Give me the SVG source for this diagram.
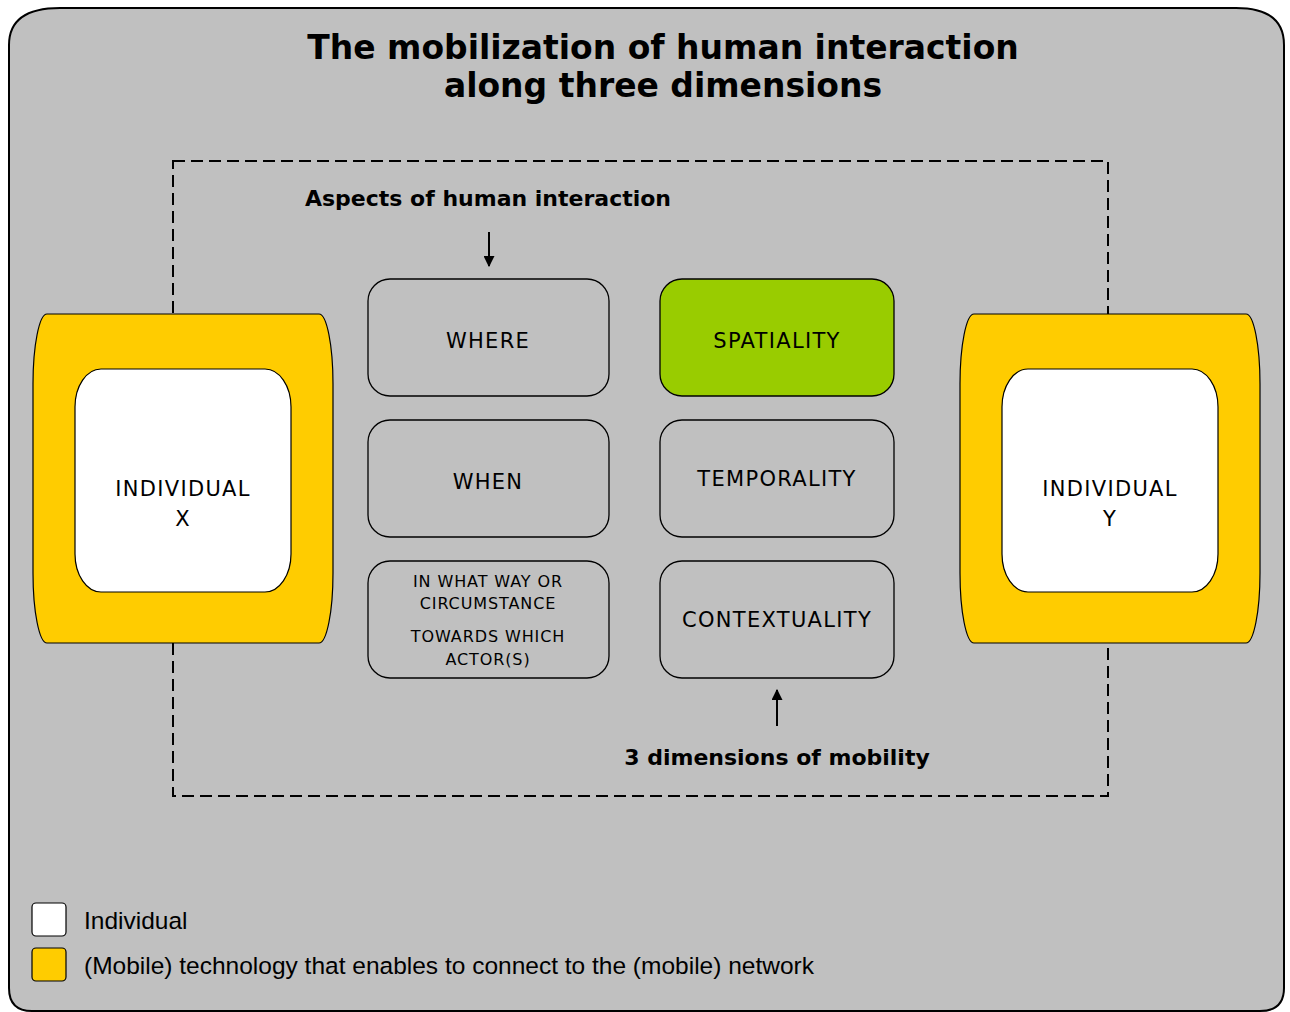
<svg xmlns="http://www.w3.org/2000/svg" width="1290" height="1012" viewBox="0 0 1290 1012">
<style>
.box{fill:#c0c0c0;stroke:#000;stroke-width:1.3}
.t{font-family:"DejaVu Sans","Liberation Sans",sans-serif;fill:#000;text-anchor:middle}
.lbl{font-size:21px;letter-spacing:1.3px}
.sm{font-size:16px;letter-spacing:0.9px}
.hd{font-family:"DejaVu Sans","Liberation Sans",sans-serif;font-weight:bold;text-anchor:middle;fill:#000}
.leg{font-family:"Liberation Sans",Arial,sans-serif;font-size:24.5px;fill:#000}
.yel{fill:#ffcc00;stroke:#000;stroke-width:1.2}
.wht{fill:#fff;stroke:#000;stroke-width:1.2}
</style>
<defs>
<marker id="ah" viewBox="0 0 10 10" refX="9" refY="5" markerWidth="11" markerHeight="11" markerUnits="userSpaceOnUse" orient="auto">
<path d="M0,0 L10,5 L0,10 z" fill="#000"/>
</marker>
</defs>
<g id="background">
<path d="M9,45 Q9,8 60,8 L1236,8 Q1284,8 1284,45 L1284,988 Q1284,1011 1260,1011 L32,1011 Q9,1011 9,988 Z" fill="#c0c0c0" stroke="#000" stroke-width="2"/>
</g>
<g id="title">
<text class="hd" font-size="34" transform="translate(663,59) scale(0.97,1)">The mobilization of human interaction</text>
<text class="hd" font-size="34" transform="translate(663,97) scale(0.97,1)">along three dimensions</text>
</g>
<g id="frame">
<rect x="173" y="161" width="935" height="635" fill="none" stroke="#000" stroke-width="2" stroke-dasharray="12,6"/>
</g>
<g id="individual-x">
<rect class="yel" x="33" y="314" width="300" height="329" rx="14" ry="70"/>
<rect class="wht" x="75" y="369" width="216" height="223" rx="26" ry="38"/>
<text class="t lbl" x="183" y="496">INDIVIDUAL</text>
<text class="t lbl" x="183" y="526">X</text>
</g>
<g id="individual-y">
<rect class="yel" x="960" y="314" width="300" height="329" rx="14" ry="70"/>
<rect class="wht" x="1002" y="369" width="216" height="223" rx="26" ry="38"/>
<text class="t lbl" x="1110" y="496">INDIVIDUAL</text>
<text class="t lbl" x="1110" y="526">Y</text>
</g>
<g id="where">
<rect class="box" x="368" y="279" width="241" height="117" rx="22"/>
<text class="t lbl" x="488" y="348">WHERE</text>
</g>
<g id="when">
<rect class="box" x="368" y="420" width="241" height="117" rx="22"/>
<text class="t lbl" x="488" y="489">WHEN</text>
</g>
<g id="in-what-way">
<rect class="box" x="368" y="561" width="241" height="117" rx="22"/>
<text class="t sm" x="488" y="587">IN WHAT WAY OR</text>
<text class="t sm" x="488" y="609">CIRCUMSTANCE</text>
<text class="t sm" x="488" y="642">TOWARDS WHICH</text>
<text class="t sm" x="488" y="665">ACTOR(S)</text>
</g>
<g id="spatiality">
<rect class="box" x="660" y="279" width="234" height="117" rx="22" style="fill:#99cc00"/>
<text class="t lbl" x="777" y="348">SPATIALITY</text>
</g>
<g id="temporality">
<rect class="box" x="660" y="420" width="234" height="117" rx="22"/>
<text class="t lbl" x="777" y="486">TEMPORALITY</text>
</g>
<g id="contextuality">
<rect class="box" x="660" y="561" width="234" height="117" rx="22"/>
<text class="t lbl" x="777" y="627">CONTEXTUALITY</text>
</g>
<g id="aspects-label">
<text class="hd" font-size="22" x="488" y="206">Aspects of human interaction</text>
</g>
<g id="dimensions-label">
<text class="hd" font-size="22" x="777" y="765">3 dimensions of mobility</text>
</g>
<g id="connectors">
<line x1="489" y1="232" x2="489" y2="266" stroke="#000" stroke-width="2" marker-end="url(#ah)"/>
<line x1="777" y1="726" x2="777" y2="690" stroke="#000" stroke-width="2" marker-end="url(#ah)"/>
</g>
<g id="legend">
<rect class="wht" x="32" y="903" width="34" height="33" rx="4"/>
<text class="leg" x="84" y="929">Individual</text>
<rect class="yel" x="32" y="948" width="34" height="33" rx="4"/>
<text class="leg" x="84" y="974">(Mobile) technology that enables to connect to the (mobile) network</text>
</g>
</svg>
